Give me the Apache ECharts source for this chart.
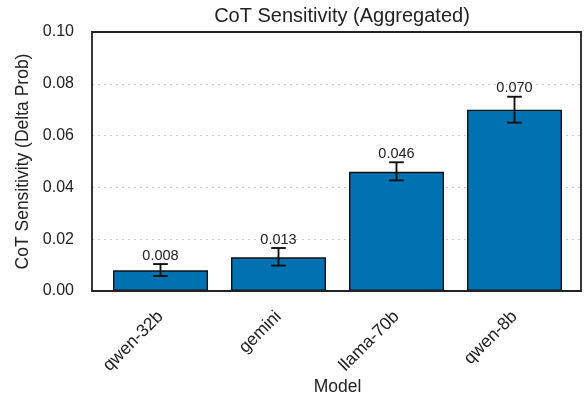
<!DOCTYPE html>
<html><head><meta charset="utf-8">
<script src="https://cdn.jsdelivr.net/npm/echarts@6/dist/echarts.min.js"></script>
<style>html,body{margin:0;padding:0;background:#fff}#c{width:586px;height:396px}</style>
</head><body><div id="c"></div>
<script>
const categories = ['qwen-32b', 'gemini', 'llama-70b', 'qwen-8b'];
const values = [0.008, 0.013, 0.046, 0.070];
const errLow = [0.0058, 0.0098, 0.0427, 0.0650];
const errHigh = [0.0104, 0.0166, 0.0497, 0.0750];
const labels = ['0.008', '0.013', '0.046', '0.070'];
const yTicks = [0, 0.02, 0.04, 0.06, 0.08, 0.10];

const font = 'Liberation Sans, Arial, Helvetica, sans-serif';
const ink = '#222';
const chart = echarts.init(document.getElementById('c'), null, {renderer: 'canvas'});
chart.setOption({
  animation: false,
  title: {text: 'CoT Sensitivity (Aggregated)', left: 337, top: 1, textAlign: 'center',
    textStyle: {fontFamily: font, fontSize: 20, fontWeight: 'normal', color: ink}},
  grid: [
    {left: 92, right: 5, top: 32, bottom: 105, show: true, borderColor: ink, borderWidth: 1.8, z: 10,
      containLabel: false, outerBoundsMode: 'none'},
    {left: 101.5, right: 12.5, top: 32, bottom: 105, containLabel: false, outerBoundsMode: 'none'}
  ],
  xAxis: [
    {gridIndex: 0, type: 'value', min: 0, max: 1, show: false},
    {gridIndex: 1, type: 'category', data: categories, name: 'Model', nameLocation: 'middle', nameGap: 87,
      nameMoveOverlap: false,
      nameTextStyle: {fontFamily: font, fontSize: 17.5, color: ink},
      axisLine: {show: false}, axisTick: {show: false},
      axisLabel: {rotate: 45, fontFamily: font, fontSize: 17.5, color: ink, margin: 23}}
  ],
  yAxis: [
    {gridIndex: 0, type: 'value', min: 0, max: 0.1, interval: 0.02,
      name: 'CoT Sensitivity (Delta Prob)', nameLocation: 'middle', nameGap: 59,
      nameTextStyle: {fontFamily: font, fontSize: 17.5, color: ink},
      axisLine: {show: false}, axisTick: {show: false},
      axisLabel: {fontFamily: font, fontSize: 16, color: ink, margin: 18,
        formatter: v => v.toFixed(2)},
      splitLine: {show: true, showMinLine: false, showMaxLine: false,
        lineStyle: {color: '#cccccc', type: [2, 4], width: 1}}},
    {gridIndex: 1, type: 'value', min: 0, max: 0.1, show: false, splitLine: {show: false}}
  ],
  series: [
    {type: 'bar', xAxisIndex: 1, yAxisIndex: 1, data: values, barCategoryGap: '19.5%',
      itemStyle: {color: '#0072B2', borderColor: '#111', borderWidth: 1.4}, z: 2},
    {type: 'custom', xAxisIndex: 1, yAxisIndex: 1, z: 5,
      data: categories.map((c, i) => [i, errLow[i], errHigh[i]]),
      renderItem: function (params, api) {
        const x = api.coord([api.value(0), 0])[0];
        const lo = api.coord([api.value(0), api.value(1)])[1];
        const hi = api.coord([api.value(0), api.value(2)])[1];
        const w = 7.3;
        const st = {stroke: '#111', lineWidth: 1.9};
        return {type: 'group', children: [
          {type: 'line', shape: {x1: x, y1: lo, x2: x, y2: hi}, style: st},
          {type: 'line', shape: {x1: x - w, y1: lo, x2: x + w, y2: lo}, style: st},
          {type: 'line', shape: {x1: x - w, y1: hi, x2: x + w, y2: hi}, style: st},
          {type: 'text', style: {text: labels[params.dataIndex], x: x, y: hi - 1,
            textAlign: 'center', textVerticalAlign: 'bottom', fontFamily: font, fontSize: 14.5, fill: ink}}
        ]};
      }}
  ]
});
</script></body></html>
